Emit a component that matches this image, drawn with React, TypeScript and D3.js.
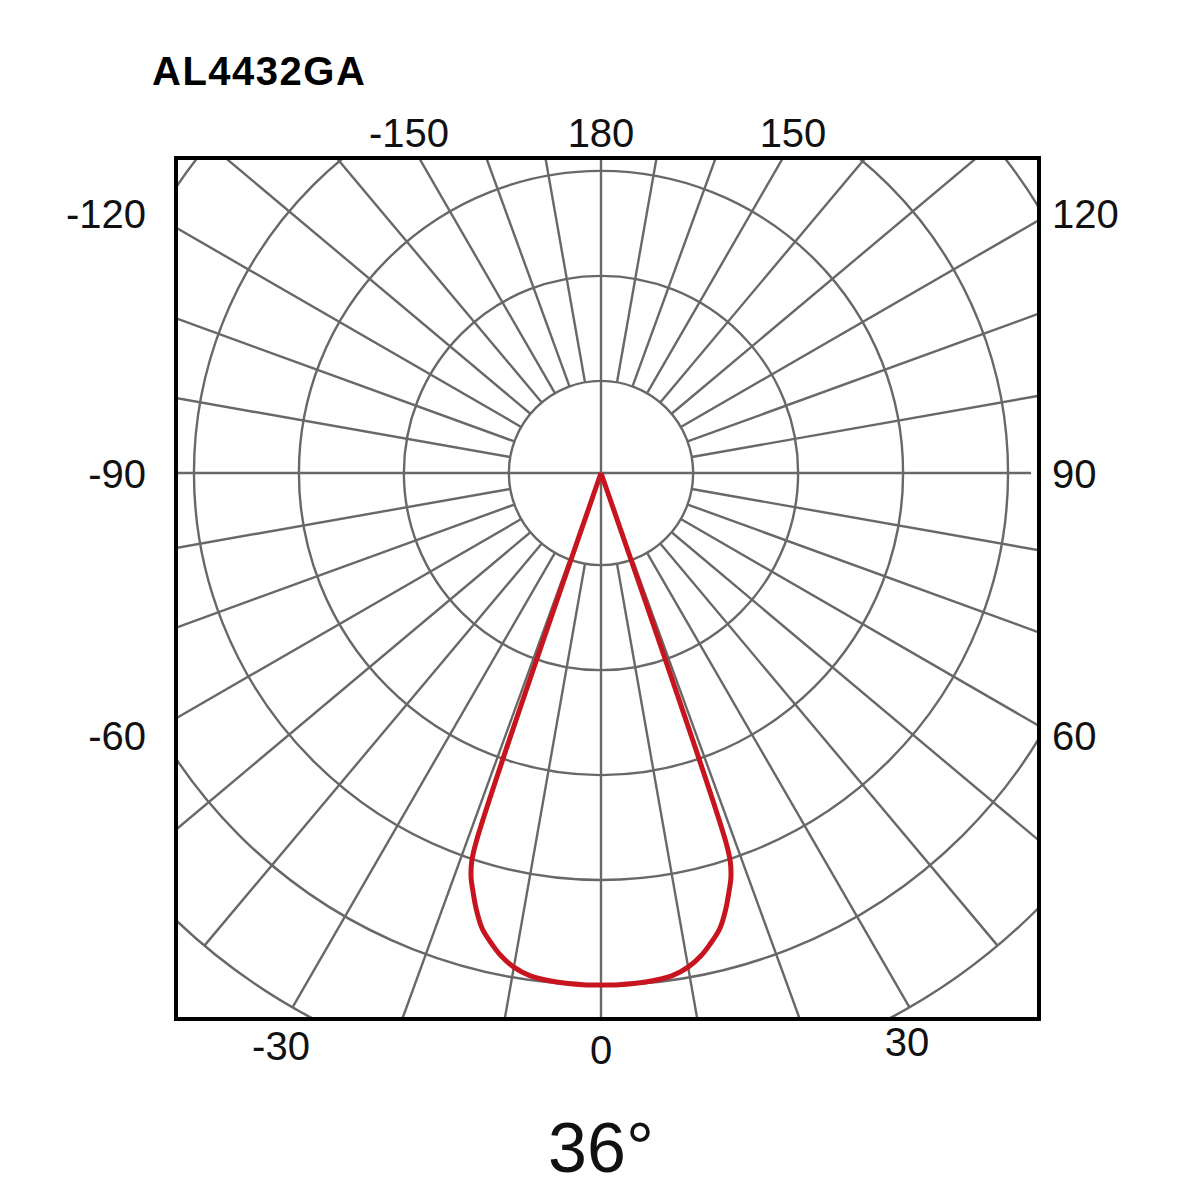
import React from "react";
import * as d3 from "d3";

// ---- data ----
const title = "AL4432GA";
const beamLabel = "36°";
// ring levels (relative intensity, 1 = peak)
const ringLevels = [0.18, 0.385, 0.59, 0.795, 1.0, 1.205];
const spokeStep = 10; // degrees
// candela curve: angle (deg, 0 = nadir) vs relative intensity
const curveAngles = [-19.5, -18.7, -18.4, -17.8, -17, -16, -14.6, -13, -11.7, -10, -8, -5, -2, 0, 2, 5, 8, 10, 11.7, 13, 14.6, 16, 17, 17.8, 18.4, 18.7, 19.5];
const curveValues = [0, 0.76, 0.8, 0.83, 0.855, 0.885, 0.92, 0.945, 0.963, 0.98, 0.992, 0.998, 1.0, 1.0, 1.0, 0.998, 0.992, 0.98, 0.963, 0.945, 0.92, 0.885, 0.855, 0.83, 0.8, 0.76, 0];
const topLabels = ["-150", "180", "150"];
const leftLabels = ["-120", "-90", "-60"];
const rightLabels = ["120", "90", "60"];
const bottomLabels = ["-30", "0", "30"];

// ---- layout ----
const W = 1200, H = 1200;
const cx = 601, cy = 473;
const box = { x0: 176, y0: 158, x1: 1039, y1: 1019 };
const rScale = d3.scaleLinear().domain([0, 1]).range([0, 512]);
const font = "'Liberation Sans', Arial, Helvetica, sans-serif";
const gridColor = "#686868";

const toXY = (deg: number, v: number) => {
  const t = (deg * Math.PI) / 180;
  return [cx + rScale(v) * Math.sin(t), cy + rScale(v) * Math.cos(t)];
};

export default function App() {
  const innerR = ringLevels[0];
  const outerR = ringLevels[ringLevels.length - 1];
  const spokes = d3.range(-180, 180, spokeStep);
  const pts = curveAngles.map((a, i) => ({ a, v: curveValues[i] }));
  const line = d3
    .lineRadial<{ a: number; v: number }>()
    .angle((d) => Math.PI - (d.a * Math.PI) / 180)
    .radius((d) => rScale(d.v))
    .curve(d3.curveCatmullRom.alpha(0.5));
  const pathD = line(pts) || "";

  const topX = [409, 601, 793];
  const sideY = [228, 488, 750];
  const bottomPos = [
    [281, 1060],
    [601, 1064],
    [907, 1056],
  ];

  return (
    <svg width={W} height={H} style={{ position: "absolute", left: 0, top: 0, background: "#fff" }}>
      <defs>
        <clipPath id="boxclip">
          <rect x={box.x0} y={box.y0} width={box.x1 - box.x0} height={box.y1 - box.y0} />
        </clipPath>
      </defs>
      <rect x={0} y={0} width={W} height={H} fill="#fff" />
      <g clipPath="url(#boxclip)" stroke={gridColor} strokeWidth={2.4} fill="none">
        {ringLevels.map((v, i) => (
          <circle key={i} cx={cx} cy={cy} r={rScale(v)} />
        ))}
        {spokes.map((a) => {
          const through = a % 90 === 0;
          const [x0, y0] = toXY(a, through ? 0 : innerR);
          const [x1, y1] = toXY(a, through ? (Math.abs(a) === 90 ? 0.84 : 2) : outerR);
          return <line key={a} x1={x0} y1={y0} x2={x1} y2={y1} />;
        })}
        <path d={pathD} transform={`translate(${cx},${cy})`} stroke="#c8141f" strokeWidth={5} strokeLinejoin="round" />
      </g>
      <rect x={box.x0} y={box.y0} width={box.x1 - box.x0} height={box.y1 - box.y0} fill="none" stroke="#000" strokeWidth={4} />
      <text x={152} y={85} fontFamily={font} fontWeight="bold" fontSize={40} letterSpacing={1.5} fill="#000">
        {title}
      </text>
      {topLabels.map((t, i) => (
        <text key={t} x={topX[i]} y={147} textAnchor="middle" fontFamily={font} fontSize={40} fill="#111">
          {t}
        </text>
      ))}
      {leftLabels.map((t, i) => (
        <text key={t} x={146} y={sideY[i]} textAnchor="end" fontFamily={font} fontSize={40} fill="#111">
          {t}
        </text>
      ))}
      {rightLabels.map((t, i) => (
        <text key={t} x={1052} y={sideY[i]} textAnchor="start" fontFamily={font} fontSize={40} fill="#111">
          {t}
        </text>
      ))}
      {bottomLabels.map((t, i) => (
        <text key={t} x={bottomPos[i][0]} y={bottomPos[i][1]} textAnchor="middle" fontFamily={font} fontSize={40} fill="#111">
          {t}
        </text>
      ))}
      <text x={601} y={1172} textAnchor="middle" fontFamily={font} fontSize={70} fill="#111">
        {beamLabel}
      </text>
    </svg>
  );
}
